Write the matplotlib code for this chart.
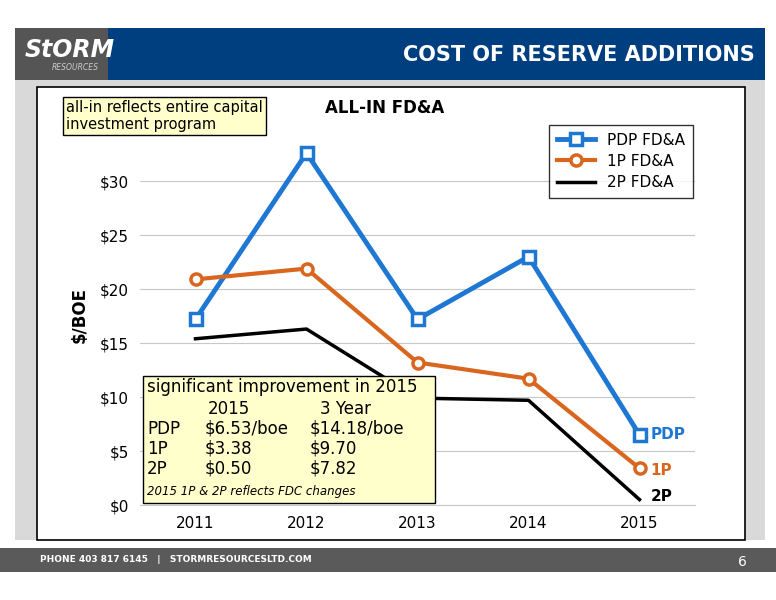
import matplotlib.pyplot as plt
from matplotlib.patches import Rectangle

plt.rcParams["text.parse_math"] = False

years = ["2011", "2012", "2013", "2014", "2015"]
pdp = [17.2, 32.6, 17.2, 23.0, 6.5]
p1 = [20.9, 21.9, 13.2, 11.7, 3.4]
p2 = [15.4, 16.3, 9.9, 9.7, 0.5]

W, H = 776, 600
fig = plt.figure(figsize=(W / 100, H / 100), dpi=100)

def box(x0, y0, x1, y1, **kw):
    # pixel coords, y measured from top
    fig.patches.append(Rectangle((x0 / W, 1 - y1 / H), (x1 - x0) / W, (y1 - y0) / H,
                                 transform=fig.transFigure, **kw))

def txt(px, py, s, **kw):
    fig.text(px / W, 1 - py / H, s, **kw)

# slide background
box(15, 80, 765, 540, facecolor="#d9d9d9", edgecolor="none")
box(15, 28, 765, 80, facecolor="#003f7f", edgecolor="none")
box(15, 28, 108, 80, facecolor="#555555", edgecolor="none")
txt(70, 50, "StORM", color="white", fontsize=17, fontweight="bold", style="italic",
    ha="center", va="center")
txt(75, 68, "RESOURCES", color="#cccccc", fontsize=5.5, style="italic", ha="center", va="center")
txt(755, 55, "COST OF RESERVE ADDITIONS", color="white", fontsize=15, fontweight="bold",
    ha="right", va="center")
box(37, 87, 745, 540, facecolor="white", edgecolor="black", linewidth=1.2)
box(0, 548, W, 572, facecolor="#5a5a5a", edgecolor="none")
txt(40, 560, "PHONE 403 817 6145   |   STORMRESOURCESLTD.COM", color="white",
    fontsize=6.5, fontweight="bold", va="center")
txt(738, 562, "6", color="white", fontsize=10, va="center")

ax = fig.add_axes([140 / W, 1 - 505 / H, 555 / W, 380 / H], zorder=2)
ax.patch.set_visible(False)
x = range(len(years))
ax.plot(x, pdp, color="#1f77d4", lw=3.5, marker="s", ms=8, mfc="white", mew=2.5, label="PDP FD&A")
ax.plot(x, p1, color="#d9661f", lw=3, marker="o", ms=8, mfc="white", mew=2.5, label="1P FD&A")
ax.plot(x, p2, color="black", lw=2.5, label="2P FD&A")
ax.set_xlim(-0.5, 4.5)
ax.set_ylim(0, 35.2)
ax.set_yticks(range(0, 35, 5))
ax.set_yticklabels([f"${v}" for v in range(0, 35, 5)], fontsize=11)
ax.set_xticks(list(x))
ax.set_xticklabels(years, fontsize=11)
ax.grid(axis="y", color="#c8c8c8", lw=0.8)
ax.set_axisbelow(True)
ax.tick_params(length=0, pad=8)
for s in ["top", "right", "left"]:
    ax.spines[s].set_visible(False)
ax.spines["bottom"].set_color("#c8c8c8")
ax.set_ylabel("$/BOE", fontsize=12, fontweight="bold", labelpad=8)
ax.text(4.1, pdp[4], "PDP", color="#1f77d4", fontsize=11, fontweight="bold", va="center")
ax.text(4.1, p1[4] - 0.2, "1P", color="#d9661f", fontsize=11, fontweight="bold", va="center")
ax.text(4.1, p2[4] + 0.3, "2P", color="black", fontsize=11, fontweight="bold", va="center")
ax.legend(loc="upper right", bbox_to_anchor=(1.01, 1.02), fontsize=11, frameon=True,
          edgecolor="black", fancybox=False, handlelength=2.5, borderpad=0.5, labelspacing=0.4)

txt(325, 108, "ALL-IN FD&A", fontsize=12, fontweight="bold", va="center")
txt(66, 116, "all-in reflects entire capital\ninvestment program", fontsize=10.5,
    va="center", linespacing=1.1,
    bbox=dict(boxstyle="square,pad=0.2", facecolor="#ffffcc", edgecolor="black"))

# note box drawn above the axes
box(143, 376, 435, 503, facecolor="#ffffcc", edgecolor="black", linewidth=1, zorder=4)
nk = dict(fontsize=12, va="center", zorder=5)
txt(147, 387, "significant improvement in 2015", **nk)
rows = [("", "2015", "3 Year"), ("PDP", "$6.53/boe", "$14.18/boe"),
        ("1P", "$3.38", "$9.70"), ("2P", "$0.50", "$7.82")]
for i, (a, b, c) in enumerate(rows):
    y = 409 + i * 20
    txt(147, y, a, **nk)
    txt(205 if i else 208, y, b, **nk)
    txt(310 if i else 320, y, c, **nk)
txt(147, 492, "2015 1P & 2P reflects FDC changes", fontsize=8.5, style="italic",
    va="center", zorder=5)

fig.savefig("out.png", dpi=100)
